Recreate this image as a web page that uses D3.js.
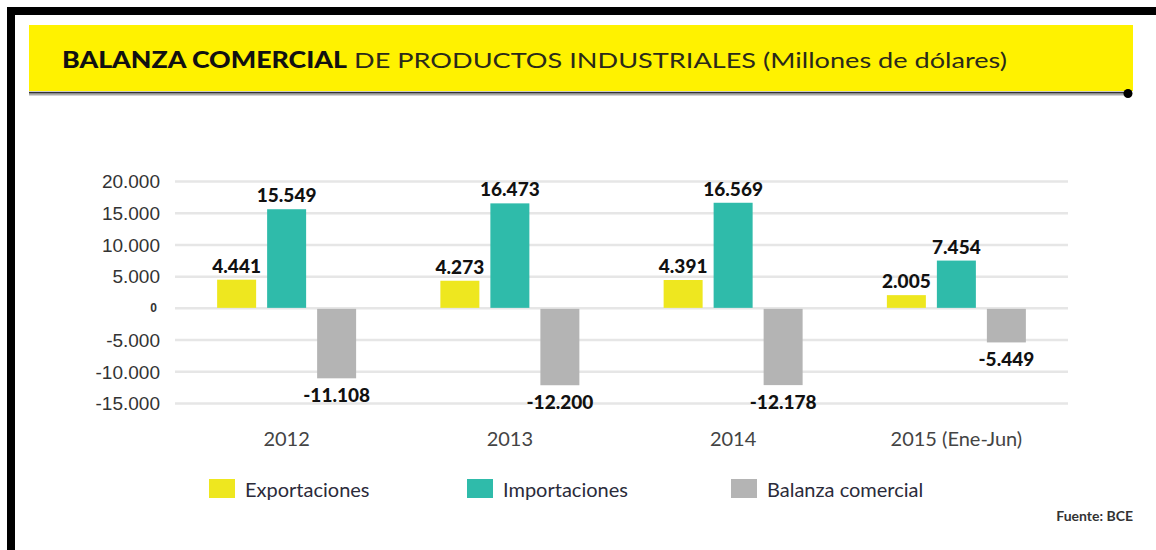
<!DOCTYPE html>
<html>
<head>
<meta charset="utf-8">
<script src="https://cdn.jsdelivr.net/npm/d3@7"></script>
<style>
  html, body { margin: 0; padding: 0; background: #fff; }
  svg { display: block; font-family: Lato, 'Open Sans', sans-serif; }
</style>
</head>
<body>
<div id="chart"></div>
<script>
// data
const categories = ['2012', '2013', '2014', '2015 (Ene-Jun)'];
const seriesNames = ['Exportaciones', 'Importaciones', 'Balanza comercial'];
const exportaciones = [4441, 4273, 4391, 2005];
const importaciones = [15549, 16473, 16569, 7454];
const balanza = [-11108, -12200, -12178, -5449];
const yTicks = [-15000, -10000, -5000, 0, 5000, 10000, 15000, 20000];

const colors = ['#eee71f', '#2fbbaa', '#b4b4b4'];
const width = 1156;
const height = 550;

const locale = d3.formatLocale({
  decimal: ',', thousands: '.', grouping: [3], currency: ['', ''], minus: '-',
});
const fmt = locale.format(',d');

const rows = categories.map((c, i) => ({
  cat: c,
  values: [exportaciones[i], importaciones[i], balanza[i]],
}));

const svg = d3.select('#chart').append('svg')
  .attr('width', width)
  .attr('height', height);

// frame (black bars left and top)
svg.append('rect').attr('x', 7).attr('y', 7).attr('width', width - 7).attr('height', 8).attr('fill', '#000');
svg.append('rect').attr('x', 7).attr('y', 7).attr('width', 8).attr('height', height - 7).attr('fill', '#000');

// yellow title band
svg.append('rect').attr('x', 29).attr('y', 25).attr('width', 1104).attr('height', 66).attr('fill', '#fff200');
svg.append('line').attr('x1', 29).attr('x2', 1128).attr('y1', 94).attr('y2', 94)
  .attr('stroke', '#aaa').attr('stroke-width', 3);
svg.append('line').attr('x1', 29).attr('x2', 1128).attr('y1', 92.5).attr('y2', 92.5)
  .attr('stroke', '#333').attr('stroke-width', 1.5);
svg.append('circle').attr('cx', 1128).attr('cy', 93.5).attr('r', 4.5).attr('fill', '#000');

// title, stretched to the width of the original lettering
svg.append('text')
  .attr('x', 62).attr('y', 68)
  .attr('textLength', 285).attr('lengthAdjust', 'spacingAndGlyphs')
  .style('font-size', '22px')
  .style('font-weight', 900)
  .attr('fill', '#111')
  .text('BALANZA COMERCIAL');
svg.append('text')
  .attr('x', 354).attr('y', 68)
  .attr('textLength', 653).attr('lengthAdjust', 'spacingAndGlyphs')
  .style('font-size', '22px')
  .attr('fill', '#2a2a1a')
  .text('DE PRODUCTOS INDUSTRIALES (Millones de dólares)');

// scales
const x = d3.scaleBand().domain(categories).range([175, 1068]);
const xs = d3.scaleBand().domain(seriesNames).range([-75, 75])
  .paddingInner(0.22).paddingOuter(0.11);
const y = d3.scaleLinear().domain([-15000, 20000]).range([403, 181]);

// y axis with gridlines
const yAxis = d3.axisLeft(y)
  .tickValues(yTicks)
  .tickSize(-(x.range()[1] - x.range()[0]))
  .tickPadding(15)
  .tickFormat(fmt);

const gy = svg.append('g')
  .attr('transform', `translate(${x.range()[0]},0)`)
  .call(yAxis);
gy.select('.domain').remove();
gy.selectAll('.tick line').attr('stroke', '#e6e6e6').attr('stroke-width', 2.5);
gy.selectAll('.tick text')
  .attr('fill', '#333')
  .style('font-size', (d) => (d === 0 ? '12px' : '19px'))
  .style('font-weight', (d) => (d === 0 ? 900 : 500))
  .attr('dy', (d) => (d === 0 ? '0.3em' : '0.36em'))
  .attr('x', (d) => (d === 0 ? -18 : -15));

// bars
const groups = svg.selectAll('.grp')
  .data(rows)
  .enter().append('g')
  .attr('class', 'grp')
  .attr('transform', (d) => `translate(${x(d.cat) + x.bandwidth() / 2},0)`);

const cells = groups.selectAll('.cell')
  .data((d) => d.values.map((v, i) => ({ v, name: seriesNames[i], i })))
  .enter();

cells.append('rect')
  .attr('x', (d) => xs(d.name))
  .attr('width', xs.bandwidth())
  .attr('y', (d) => (d.v >= 0 ? y(d.v) : y(0) + 1))
  .attr('height', (d) => Math.abs(y(d.v) - y(0)) - (d.v >= 0 ? 0 : 1))
  .attr('fill', (d) => colors[d.i]);

cells.append('text')
  .attr('x', (d) => xs(d.name) + xs.bandwidth() / 2)
  .attr('y', (d) => (d.v >= 0 ? y(d.v) - 7 : y(d.v) + 24))
  .attr('text-anchor', 'middle')
  .style('font-size', '19px')
  .style('font-weight', 900)
  .attr('fill', '#111')
  .text((d) => fmt(d.v));

// category labels
svg.selectAll('.cat')
  .data(categories)
  .enter().append('text')
  .attr('class', 'cat')
  .attr('x', (d) => x(d) + x.bandwidth() / 2)
  .attr('y', 446)
  .attr('text-anchor', 'middle')
  .style('font-size', '20px')
  .attr('fill', '#444')
  .text((d) => d);

// legend
const legendX = [209, 467, 731];
const legend = svg.selectAll('.leg')
  .data(seriesNames)
  .enter().append('g')
  .attr('class', 'leg')
  .attr('transform', (d, i) => `translate(${legendX[i]},479)`);
legend.append('rect').attr('width', 26).attr('height', 19).attr('fill', (d, i) => colors[i]);
legend.append('text')
  .attr('x', 36).attr('y', 18)
  .style('font-size', '20px')
  .attr('fill', '#2b2b3a')
  .text((d) => d);

// source
svg.append('text')
  .attr('x', 1133).attr('y', 521)
  .attr('text-anchor', 'end')
  .style('font-size', '14px')
  .style('font-weight', 700)
  .attr('fill', '#333')
  .text('Fuente: BCE');
</script>
</body>
</html>
